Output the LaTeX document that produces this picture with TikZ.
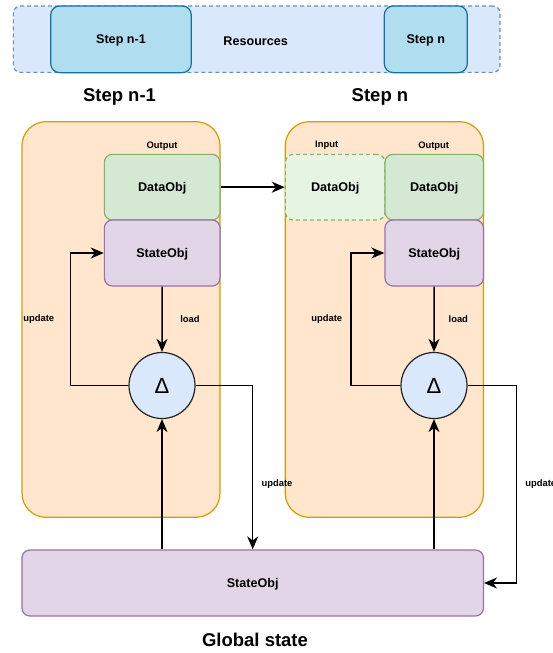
\documentclass[tikz,border=0pt]{standalone}
\usepackage{fontspec}
\setmainfont{Liberation Sans}
\usetikzlibrary{arrows.meta,calc}

\definecolor{resfill}{HTML}{DAE8FC}
\definecolor{resline}{HTML}{6C8EBF}
\definecolor{stepfill}{HTML}{B1DDF0}
\definecolor{stepline}{HTML}{10739E}
\definecolor{boxfill}{HTML}{FFE6CC}
\definecolor{boxline}{HTML}{D79B00}
\definecolor{datafill}{HTML}{D5E8D4}
\definecolor{dataline}{HTML}{82B366}
\definecolor{infill}{HTML}{E6F5E3}
\definecolor{statefill}{HTML}{E1D5E7}
\definecolor{stateline}{HTML}{9673A6}
\definecolor{circline}{HTML}{222222}

\tikzset{
  box/.style={draw, line width=1.2pt, rounded corners=8pt, inner sep=0pt,
    align=center, font=\fontsize{12.6}{14}\selectfont\bfseries,
    text height=1em, text depth=0.15em},
  stepbox/.style={box, fill=stepfill, draw=stepline, minimum height=66.7pt, rounded corners=9pt},
  databox/.style={box, fill=datafill, draw=dataline, minimum height=65.7pt},
  inbox/.style={box, fill=infill, draw=dataline, dashed, dash pattern=on 4pt off 3pt, minimum height=65.7pt},
  statebox/.style={box, fill=statefill, draw=stateline, minimum height=66pt},
  stage/.style={draw=boxline, fill=boxfill, line width=1.2pt, rounded corners=24pt,
    minimum width=198pt, minimum height=395.6pt, inner sep=0pt},
  op/.style={circle, draw=circline, fill=resfill, line width=1.2pt, minimum size=66pt,
    inner sep=0pt, font=\fontsize{22}{24}\selectfont},
  tag/.style={font=\fontsize{9.4}{11}\selectfont\bfseries, inner sep=0pt},
  title/.style={font=\fontsize{18.5}{21}\selectfont\bfseries, inner sep=0pt},
  arr/.style={draw=black, line width=1.5pt,
    -{Stealth[length=13pt, width=11pt, inset=4pt]}},
}

\begin{document}
\begin{tikzpicture}[x=1pt, y=-1pt]
\useasboundingbox (0,0) rectangle (553,653);

% resource pool along the top
\node[box, fill=resfill, draw=resline, dashed, dash pattern=on 4pt off 3pt,
  rounded corners=7pt, minimum width=486.7pt, minimum height=66.3pt] (res) at (256.7,39.2) {};
\node[stepbox, minimum width=140.6pt] (s1) at (121,39.3) {Step n-1};
\node[stepbox, minimum width=83pt] (sn) at (425.8,39.3) {Step n};
\node[tag, font=\fontsize{12.6}{14}\selectfont\bfseries] (restext) at (255.7,41) {Resources};

\node[title] (t1) at (119.5,97) {Step n-1};
\node[title] (tn) at (380,97) {Step n};

% the two step containers
\node[stage] (cl) at (121,319.5) {};
\node[stage, minimum width=198.2pt] (cr) at (384.4,319.5) {};

% step n-1 contents
\node[databox, minimum width=115.7pt] (dl) at (162.2,187.2) {DataObj};
\node[statebox, minimum width=115.7pt] (sl) at (162.2,253) {StateObj};
\node[op] (ol) at (162,385.5) {Δ};
\node[tag] (outl) at (162,145.7) {Output};
\node[tag] (loadl) at (190,318.7) {load};
\node[tag] (updl) at (38.7,318.7) {update};

% step n contents
\node[inbox, minimum width=99.7pt] (din) at (335.2,187.2) {DataObj};
\node[databox, minimum width=98.5pt] (dr) at (434.2,187.2) {DataObj};
\node[statebox, minimum width=98.5pt] (sr) at (434.2,253) {StateObj};
\node[op] (or) at (434,385.5) {Δ};
\node[tag] (inr) at (326.7,145.7) {Input};
\node[tag] (outr) at (433.7,145.7) {Output};
\node[tag] (loadr) at (458.3,318.7) {load};
\node[tag] (updr) at (326.7,318.7) {update};

% global state
\node[statebox, minimum width=461.5pt, minimum height=66pt] (gs) at (252.7,583) {StateObj};
\node[title] (gt) at (255,640) {Global state};
\node[tag] (updm) at (277,484) {update};
\node[tag] (upde) at (540.7,484) {update};

% connectors
\draw[arr] (dl.east) -- (din.west);
\draw[arr] (sl.south) -- (ol.north);
\draw[arr] (sr.south) -- (or.north);
\draw[arr] (ol.west) -- ++(-57.7,0) |- (sl.west);
\draw[arr] (or.west) -- ++(-49.3,0) |- (sr.west);
\draw[arr] (ol |- gs.north) -- (ol.south);
\draw[arr] (or |- gs.north) -- (or.south);
\draw[arr] (ol.east) -| (gs.north);
\coordinate (turn) at (516.7,385.5);
\draw[arr] (or.east) -- (turn) |- (gs.east);
\end{tikzpicture}
\end{document}
